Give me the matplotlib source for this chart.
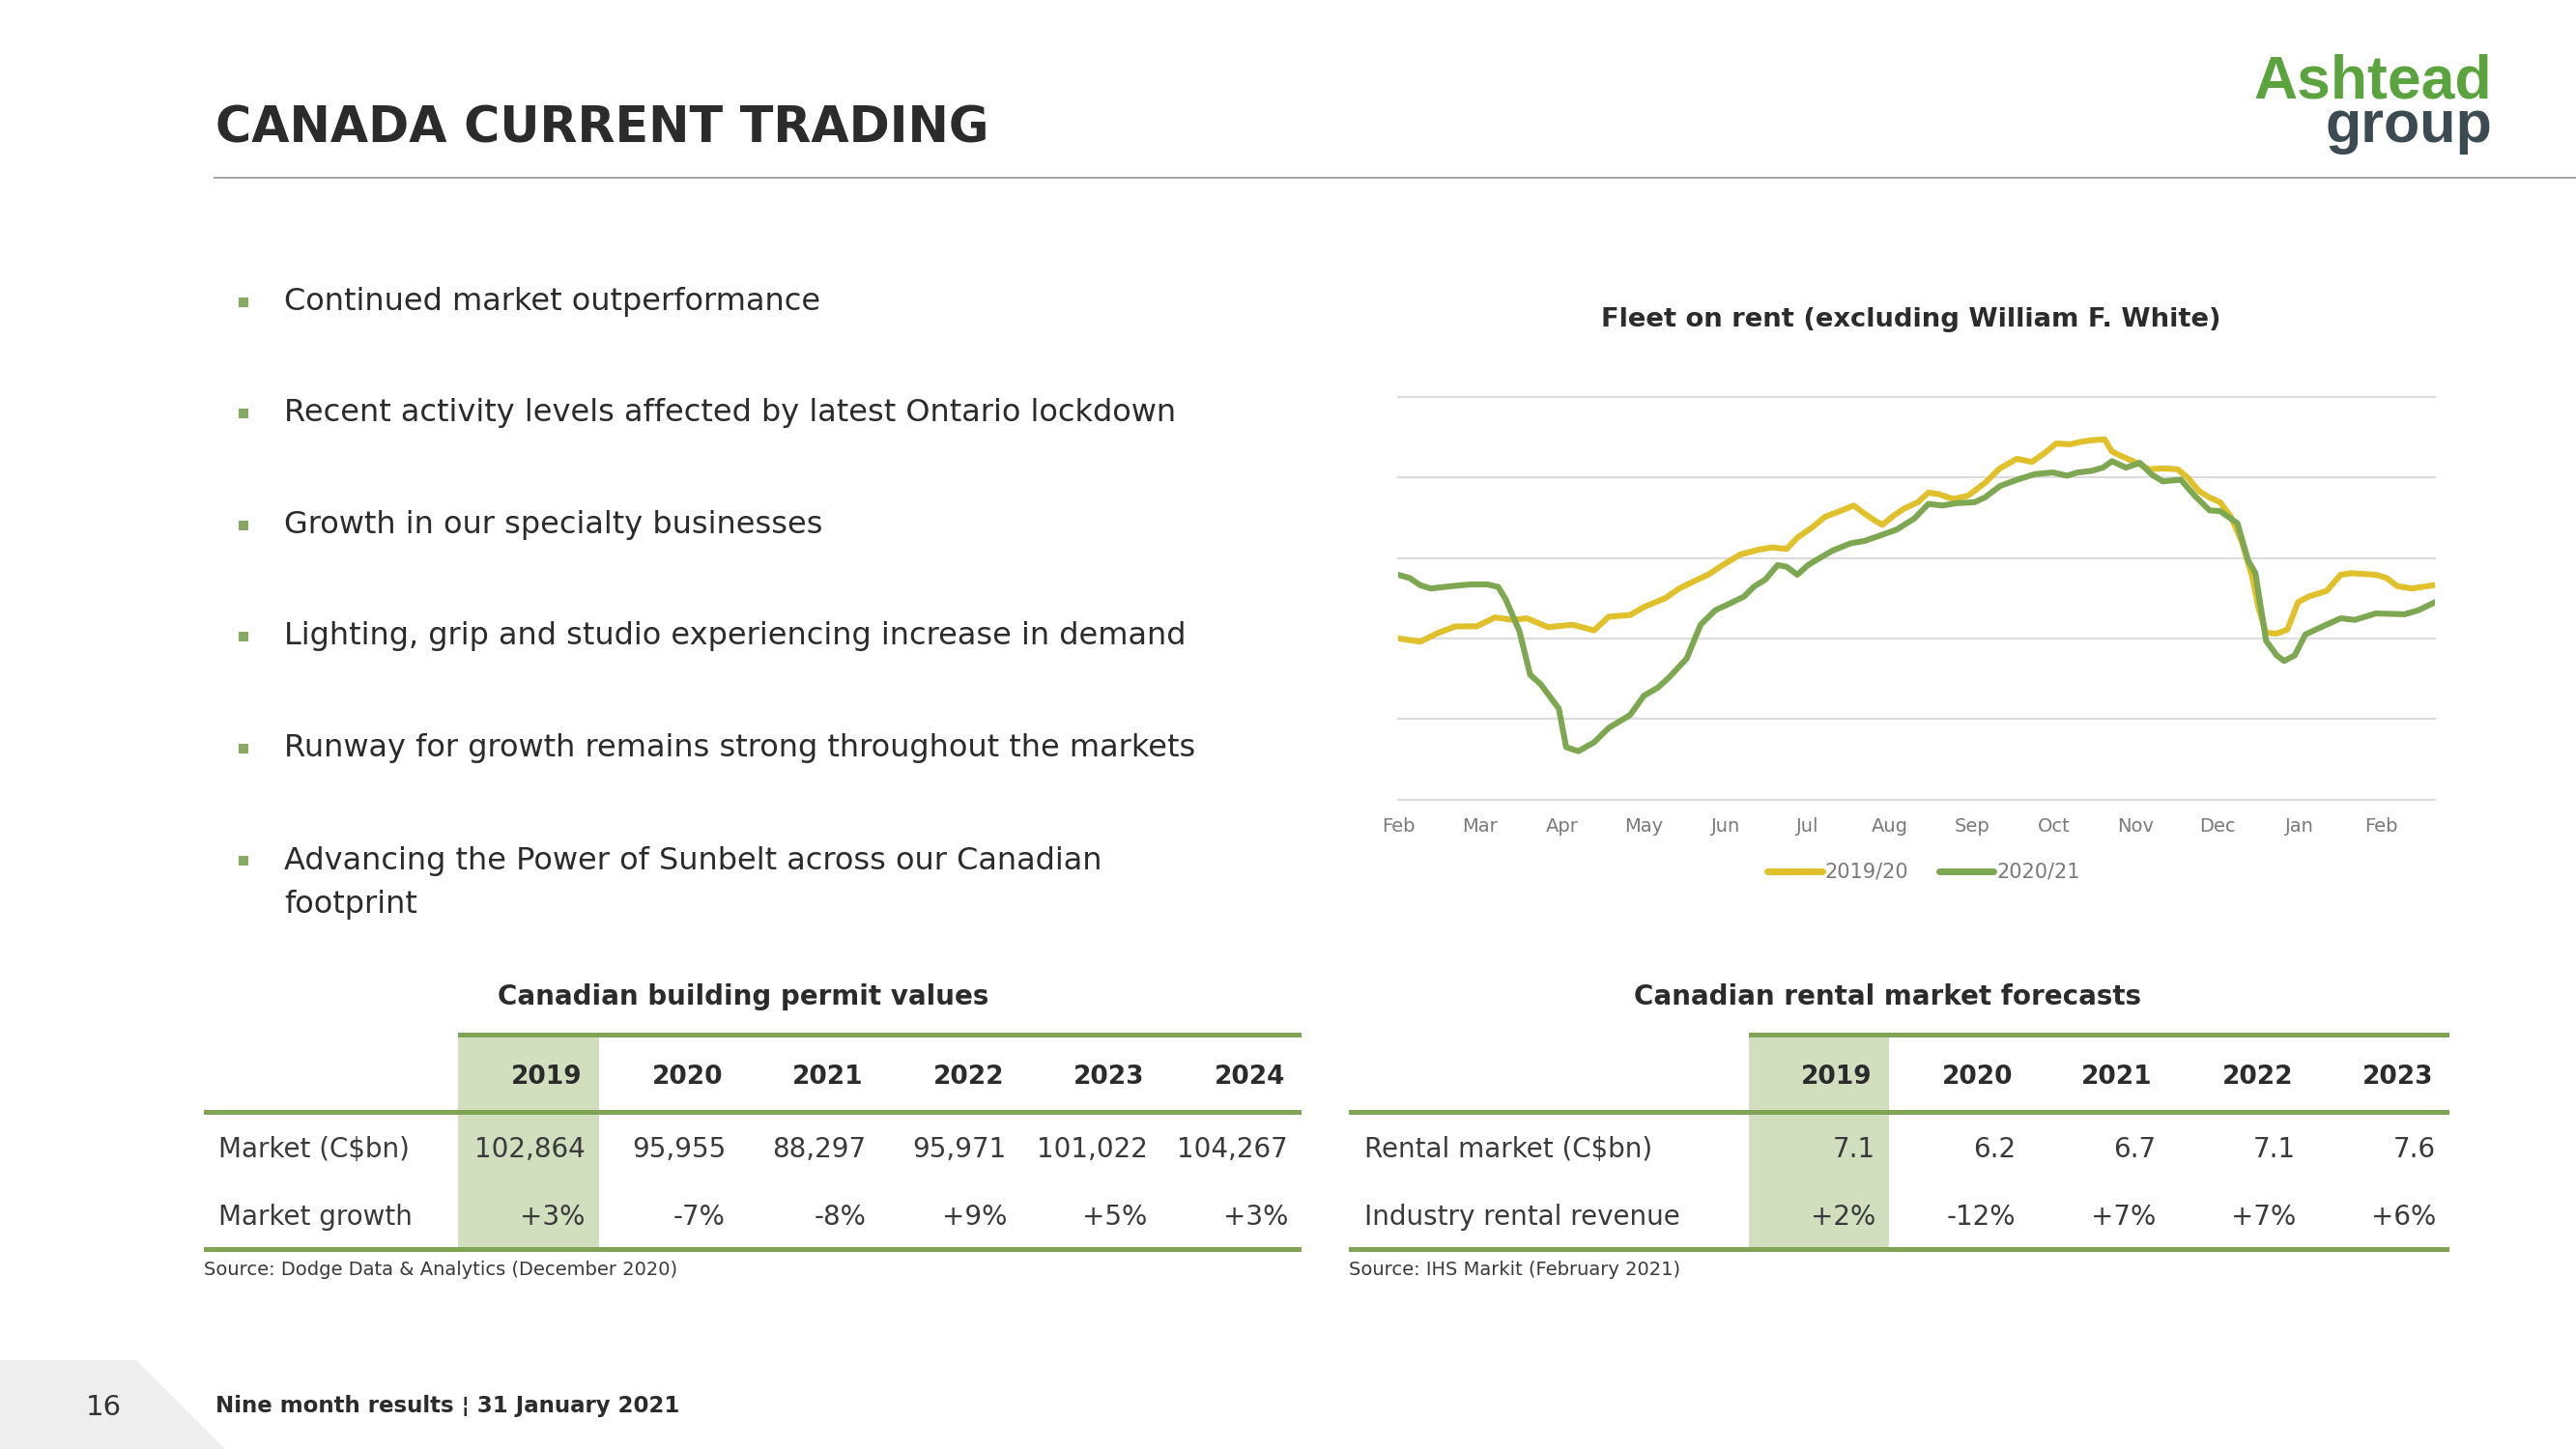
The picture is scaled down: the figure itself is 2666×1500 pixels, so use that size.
import matplotlib
matplotlib.use("Agg")
import matplotlib.pyplot as plt
from matplotlib.patches import Rectangle, Polygon
from matplotlib.lines import Line2D

plt.rcParams['font.family'] = ['DejaVu Sans']

# ---------------- data ----------------
title = "CANADA CURRENT TRADING"
bullets = [
    "Continued market outperformance",
    "Recent activity levels affected by latest Ontario lockdown",
    "Growth in our specialty businesses",
    "Lighting, grip and studio experiencing increase in demand",
    "Runway for growth remains strong throughout the markets",
    "Advancing the Power of Sunbelt across our Canadian\nfootprint",
]

chart_title = "Fleet on rent (excluding William F. White)"
month_labels = ["Feb", "Mar", "Apr", "May", "Jun", "Jul", "Aug", "Sep",
                "Oct", "Nov", "Dec", "Jan", "Feb"]
series_names = ["2019/20", "2020/21"]

# months since start of February (x) and fleet-on-rent index (y)
x_1920 = [0.00, 0.27, 0.49, 0.70, 0.96, 1.18, 1.40, 1.57, 1.83, 2.13, 2.39, 2.57, 2.83, 3.00,
          3.26, 3.43, 3.61, 3.78, 3.96, 4.17, 4.39, 4.56, 4.74, 4.87, 5.04, 5.21, 5.39, 5.56,
          5.69, 5.82, 5.91, 6.04, 6.17, 6.34, 6.47, 6.60, 6.77, 6.95, 7.16, 7.34, 7.55, 7.73,
          7.90, 8.03, 8.20, 8.33, 8.46, 8.62, 8.71, 8.81, 8.99, 9.16, 9.33, 9.51, 9.64, 9.77,
          9.90, 10.03, 10.16, 10.29, 10.42, 10.50, 10.59, 10.72, 10.85, 10.98, 11.11, 11.33,
          11.50, 11.63, 11.93, 12.06, 12.19, 12.37, 12.63]
y_1920 = [2.00, 1.96, 2.07, 2.15, 2.15, 2.26, 2.23, 2.25, 2.14, 2.17, 2.10, 2.27, 2.29, 2.39,
          2.50, 2.62, 2.71, 2.79, 2.91, 3.04, 3.10, 3.13, 3.11, 3.25, 3.37, 3.51, 3.58, 3.65,
          3.55, 3.46, 3.41, 3.52, 3.61, 3.69, 3.81, 3.79, 3.73, 3.77, 3.93, 4.11, 4.23, 4.19,
          4.31, 4.42, 4.41, 4.44, 4.46, 4.47, 4.32, 4.27, 4.19, 4.10, 4.11, 4.10, 3.99, 3.83,
          3.75, 3.69, 3.51, 3.21, 2.77, 2.37, 2.07, 2.06, 2.11, 2.45, 2.52, 2.59,
          2.79, 2.81, 2.79, 2.75, 2.65, 2.62, 2.66]
x_2021 = [0.00, 0.14, 0.27, 0.40, 0.66, 0.88, 1.09, 1.22, 1.31, 1.48, 1.61, 1.74, 1.96, 2.05,
          2.20, 2.39, 2.57, 2.70, 2.83, 3.00, 3.17, 3.30, 3.52, 3.69, 3.87, 4.04, 4.22, 4.35,
          4.48, 4.63, 4.74, 4.87, 5.00, 5.13, 5.30, 5.52, 5.69, 5.86, 6.08, 6.30, 6.47, 6.64,
          6.82, 7.03, 7.16, 7.34, 7.55, 7.77, 7.99, 8.16, 8.29, 8.46, 8.60, 8.71, 8.88, 9.05,
          9.20, 9.33, 9.55, 9.72, 9.90, 10.03, 10.24, 10.37, 10.46, 10.59, 10.72, 10.81, 10.94,
          11.07, 11.24, 11.50, 11.67, 11.93, 12.28, 12.45, 12.63]
y_2021 = [2.79, 2.75, 2.66, 2.62, 2.65, 2.67, 2.67, 2.64, 2.49, 2.09, 1.55, 1.43, 1.13, 0.65,
          0.60, 0.71, 0.89, 0.97, 1.05, 1.29, 1.39, 1.51, 1.75, 2.17, 2.35, 2.43, 2.52, 2.65,
          2.73, 2.91, 2.89, 2.79, 2.91, 2.99, 3.09, 3.18, 3.21, 3.27, 3.35, 3.49, 3.67, 3.65,
          3.68, 3.69, 3.75, 3.89, 3.97, 4.04, 4.06, 4.02, 4.06, 4.08, 4.12, 4.20, 4.12, 4.18,
          4.03, 3.95, 3.97, 3.77, 3.59, 3.58, 3.43, 2.97, 2.81, 1.97, 1.79, 1.72, 1.79,
          2.05, 2.13, 2.25, 2.23, 2.31, 2.30, 2.35, 2.44]

permit_title = "Canadian building permit values"
permit_years = ["2019", "2020", "2021", "2022", "2023", "2024"]
permit_rows = ["Market (C$bn)", "Market growth"]
permit_market = ["102,864", "95,955", "88,297", "95,971", "101,022", "104,267"]
permit_growth = ["+3%", "-7%", "-8%", "+9%", "+5%", "+3%"]
permit_source = "Source: Dodge Data & Analytics (December 2020)"

rental_title = "Canadian rental market forecasts"
rental_years = ["2019", "2020", "2021", "2022", "2023"]
rental_rows = ["Rental market (C$bn)", "Industry rental revenue"]
rental_market = [7.1, 6.2, 6.7, 7.1, 7.6]
rental_growth = ["+2%", "-12%", "+7%", "+7%", "+6%"]
rental_source = "Source: IHS Markit (February 2021)"

page_number = "16"
footer = "Nine month results \u00a6 31 January 2021"

# ---------------- styles ----------------
W, H = 2666, 1500
TXT = "#2b2b2b"
GREEN_T = "#80a454"
HILITE = "#d1dfbf"
C_1920 = "#e0c12c"
C_2021 = "#7da751"
GRID = "#dcdcdc"
GREY_LBL = "#7a7a7a"

fig = plt.figure(figsize=(W / 100, H / 100), dpi=100)
fig.patch.set_facecolor("white")

# overlay axes in pixel coordinates (for slide furniture)
ov = fig.add_axes([0, 0, 1, 1])
ov.set_xlim(0, W)
ov.set_ylim(H, 0)
ov.axis("off")

# title + rule
ov.text(223, 148, title, fontsize=36.5, fontweight="bold", color=TXT, va="baseline", ha="left")
ov.add_patch(Rectangle((221, 183), W - 221, 2, color="#a6a6a6", lw=0))

# logo
ov.text(2579, 102, "Ashtead", family=["Liberation Sans", "DejaVu Sans"], fontweight="bold",
        fontsize=45, color="#5ba33e", ha="right", va="baseline")
ov.text(2579, 147, "group", family=["Liberation Sans", "DejaVu Sans"], fontweight="bold",
        fontsize=44, color="#3c4a52", ha="right", va="baseline")

# bullets (baseline of first line of each bullet)
bullet_baselines = [320.5, 436, 552, 667, 783, 898.5]
line_gap = 46
for txt, yb in zip(bullets, bullet_baselines):
    ov.add_patch(Rectangle((247, yb - 13), 10, 10, color="#86ab60", lw=0))
    n_extra = txt.count("\n")
    ov.text(294, yb + n_extra * line_gap, txt, fontsize=23, color=TXT, va="baseline",
            ha="left", linespacing=1.55)

# ---------------- line chart ----------------
ax = fig.add_axes([1447 / W, 1 - 827.7 / H, (2520 - 1447) / W, (827.7 - 410.7) / H])
ax.patch.set_alpha(0)
for s in ax.spines.values():
    s.set_visible(False)
ax.set_xlim(0, 12.65)
ax.set_ylim(0, 5)
for g in range(0, 6):
    ax.axhline(g, color=GRID, lw=1.6, zorder=0, clip_on=False)
ax.plot(x_1920, y_1920, color=C_1920, lw=4.4, solid_joinstyle="round", label=series_names[0], zorder=2)
ax.plot(x_2021, y_2021, color=C_2021, lw=4.4, solid_joinstyle="round", label=series_names[1], zorder=3)
ax.set_xticks(range(len(month_labels)))
ax.set_xticklabels(month_labels, fontsize=14, color=GREY_LBL)
ax.tick_params(axis="x", length=0, pad=13)
ax.set_yticks([])

ov.text(1978, 338, chart_title, fontsize=19.7, fontweight="bold", color=TXT, ha="center", va="baseline")

leg = fig.legend(handles=[Line2D([], [], color=C_1920, lw=5, solid_capstyle="round"),
                          Line2D([], [], color=C_2021, lw=5, solid_capstyle="round")],
                 labels=series_names, loc="center", ncol=2, frameon=False,
                 bbox_to_anchor=(1991 / W, 1 - 903 / H), fontsize=15,
                 handlelength=2.7, handletextpad=0.15, columnspacing=1.5)
for t in leg.get_texts():
    t.set_color(GREY_LBL)


# ---------------- tables ----------------
def draw_table(title_txt, title_cx, col_x0, col_w, years, row_labels, rows, label_x, line_x0, source):
    n = len(years)
    x_end = col_x0 + n * col_w
    ov.text(title_cx, 1040, title_txt, fontsize=20, fontweight="bold", color=TXT,
            ha="center", va="baseline")
    # highlight first year column
    ov.add_patch(Rectangle((col_x0, 1071), col_w, 1293 - 1071, color=HILITE, lw=0, zorder=1))
    # rules
    ov.add_patch(Rectangle((col_x0, 1068.5), x_end - col_x0, 5, color=GREEN_T, lw=0, zorder=2))
    ov.add_patch(Rectangle((line_x0, 1148.5), x_end - line_x0, 5, color=GREEN_T, lw=0, zorder=2))
    ov.add_patch(Rectangle((line_x0, 1290.5), x_end - line_x0, 5, color=GREEN_T, lw=0, zorder=2))
    for i, y in enumerate(years):
        ov.text(col_x0 + (i + 1) * col_w - 17, 1122, y, fontsize=19, fontweight="bold",
                color=TXT, ha="right", va="baseline", zorder=3)
    for r, (lab, vals) in enumerate(zip(row_labels, rows)):
        yb = [1198, 1268][r]
        ov.text(label_x, yb, lab, fontsize=20, color="#3a3a3a", ha="left", va="baseline", zorder=3)
        for i, v in enumerate(vals):
            ov.text(col_x0 + (i + 1) * col_w - 14, yb, v, fontsize=20, color="#3a3a3a",
                    ha="right", va="baseline", zorder=3)
    ov.text(line_x0, 1320, source, fontsize=14, color="#3a3a3a", ha="left", va="baseline")


draw_table(permit_title, 769, 474, 145.5, permit_years, permit_rows,
           [permit_market, permit_growth], 226, 211, permit_source)
draw_table(rental_title, 1954, 1810, 145, rental_years, rental_rows,
           [[f"{v:.1f}" for v in rental_market], rental_growth], 1412, 1396, rental_source)

# ---------------- footer ----------------
ov.add_patch(Polygon([(0, 1408), (141, 1408), (233, 1500), (0, 1500)], closed=True,
                     color="#eeeeee", lw=0))
ov.text(107, 1465, page_number, fontsize=21, color="#333333", ha="center", va="baseline")
ov.text(223, 1462, footer, fontsize=16.5, fontweight="bold", color=TXT, ha="left", va="baseline")

fig.savefig("out.png", dpi=100, facecolor="white")
